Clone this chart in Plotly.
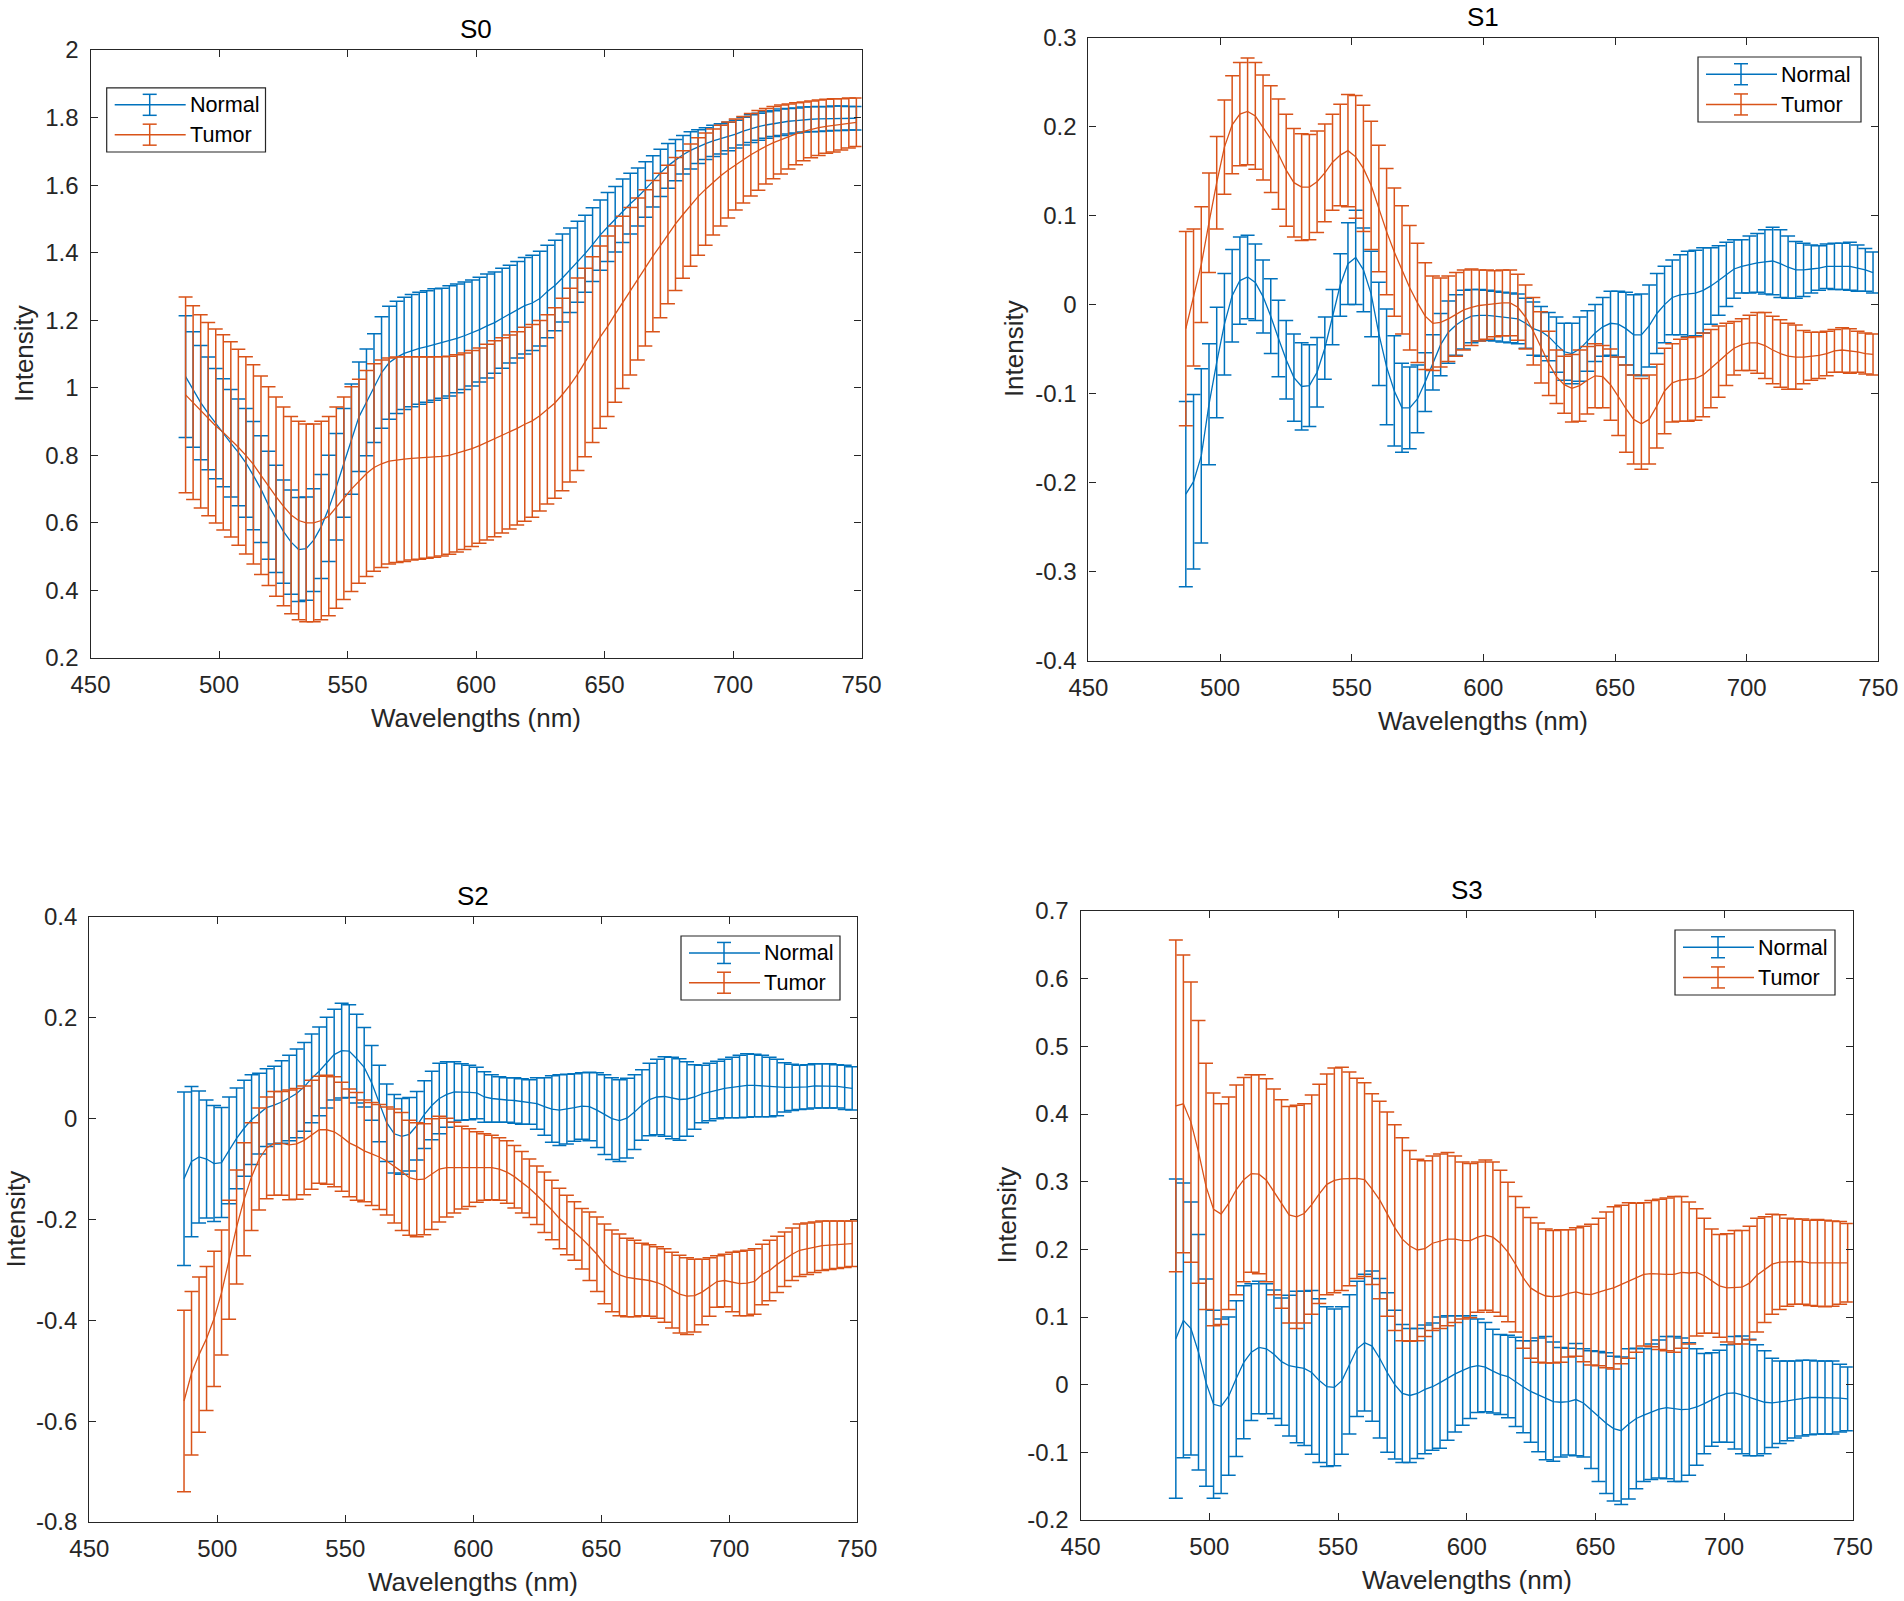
import plotly.graph_objects as go

# ---------------- data ----------------
WAVELENGTHS = [487.00, 489.93, 492.87, 495.80, 498.73, 501.66, 504.60, 507.53, 510.46, 513.39,
               516.33, 519.26, 522.19, 525.12, 528.06, 530.99, 533.92, 536.85, 539.79, 542.72,
               545.65, 548.58, 551.52, 554.45, 557.38, 560.31, 563.25, 566.18, 569.11, 572.04,
               574.98, 577.91, 580.84, 583.78, 586.71, 589.64, 592.57, 595.51, 598.44, 601.37,
               604.30, 607.24, 610.17, 613.10, 616.03, 618.97, 621.90, 624.83, 627.76, 630.70,
               633.63, 636.56, 639.49, 642.43, 645.36, 648.29, 651.22, 654.16, 657.09, 660.02,
               662.96, 665.89, 668.82, 671.75, 674.69, 677.62, 680.55, 683.48, 686.42, 689.35,
               692.28, 695.21, 698.15, 701.08, 704.01, 706.94, 709.88, 712.81, 715.74, 718.67,
               721.61, 724.54, 727.47, 730.40, 733.34, 736.27, 739.20, 742.13, 745.07, 748.00]

S0_NORMAL_MEAN = [1.033, 0.995, 0.956, 0.924, 0.894, 0.867, 0.836, 0.809, 0.778, 0.740,
                  0.700, 0.652, 0.612, 0.574, 0.543, 0.521, 0.524, 0.549, 0.589, 0.643,
                  0.707, 0.778, 0.848, 0.914, 0.957, 0.999, 1.045, 1.074, 1.090, 1.102,
                  1.110, 1.117, 1.122, 1.128, 1.132, 1.139, 1.146, 1.154, 1.162, 1.172,
                  1.183, 1.193, 1.206, 1.218, 1.231, 1.243, 1.251, 1.264, 1.285, 1.303,
                  1.325, 1.348, 1.373, 1.397, 1.424, 1.452, 1.476, 1.499, 1.524, 1.545,
                  1.565, 1.587, 1.611, 1.636, 1.657, 1.674, 1.690, 1.703, 1.714, 1.723,
                  1.731, 1.737, 1.744, 1.751, 1.760, 1.767, 1.773, 1.778, 1.782, 1.786,
                  1.789, 1.791, 1.794, 1.795, 1.796, 1.796, 1.798, 1.798, 1.798, 1.798]
S0_NORMAL_ERR = [0.180, 0.171, 0.169, 0.167, 0.163, 0.160, 0.159, 0.158, 0.161, 0.160,
                 0.158, 0.160, 0.159, 0.153, 0.154, 0.154, 0.153, 0.152, 0.154, 0.157,
                 0.158, 0.161, 0.163, 0.162, 0.158, 0.161, 0.165, 0.167, 0.166, 0.166,
                 0.166, 0.166, 0.165, 0.165, 0.163, 0.163, 0.161, 0.159, 0.157, 0.155,
                 0.154, 0.150, 0.148, 0.145, 0.143, 0.143, 0.141, 0.140, 0.137, 0.134,
                 0.130, 0.125, 0.120, 0.114, 0.109, 0.104, 0.102, 0.097, 0.094, 0.090,
                 0.086, 0.082, 0.076, 0.070, 0.066, 0.061, 0.057, 0.055, 0.050, 0.047,
                 0.046, 0.045, 0.042, 0.041, 0.041, 0.041, 0.040, 0.039, 0.038, 0.039,
                 0.038, 0.037, 0.037, 0.037, 0.037, 0.036, 0.036, 0.036, 0.035, 0.035]
S0_TUMOR_MEAN = [0.979, 0.956, 0.930, 0.907, 0.887, 0.868, 0.847, 0.824, 0.800, 0.773,
                 0.741, 0.709, 0.678, 0.649, 0.623, 0.607, 0.600, 0.600, 0.607, 0.620,
                 0.645, 0.673, 0.700, 0.723, 0.746, 0.764, 0.775, 0.783, 0.787, 0.789,
                 0.791, 0.792, 0.793, 0.795, 0.797, 0.800, 0.806, 0.812, 0.820, 0.829,
                 0.839, 0.849, 0.859, 0.869, 0.880, 0.892, 0.902, 0.917, 0.936, 0.955,
                 0.980, 1.008, 1.040, 1.075, 1.113, 1.150, 1.182, 1.218, 1.253, 1.286,
                 1.322, 1.355, 1.390, 1.421, 1.454, 1.485, 1.513, 1.541, 1.566, 1.588,
                 1.609, 1.628, 1.645, 1.661, 1.675, 1.690, 1.703, 1.715, 1.726, 1.735,
                 1.744, 1.752, 1.759, 1.765, 1.770, 1.774, 1.777, 1.780, 1.784, 1.786]
S0_TUMOR_ERR = [0.290, 0.287, 0.286, 0.286, 0.287, 0.289, 0.289, 0.290, 0.292, 0.295,
                0.294, 0.294, 0.295, 0.294, 0.292, 0.294, 0.293, 0.293, 0.294, 0.295,
                0.298, 0.300, 0.303, 0.302, 0.305, 0.307, 0.307, 0.305, 0.304, 0.303,
                0.301, 0.300, 0.298, 0.297, 0.295, 0.293, 0.292, 0.291, 0.290, 0.289,
                0.290, 0.290, 0.289, 0.287, 0.286, 0.287, 0.285, 0.282, 0.280, 0.282,
                0.285, 0.287, 0.285, 0.279, 0.275, 0.270, 0.267, 0.261, 0.255, 0.248,
                0.240, 0.231, 0.224, 0.214, 0.205, 0.197, 0.189, 0.181, 0.174, 0.166,
                0.157, 0.149, 0.142, 0.135, 0.128, 0.122, 0.118, 0.112, 0.107, 0.102,
                0.096, 0.092, 0.087, 0.084, 0.082, 0.080, 0.079, 0.076, 0.074, 0.072]

S1_NORMAL_MEAN = [-0.213, -0.199, -0.170, -0.112, -0.065, -0.022, 0.010, 0.027, 0.031, 0.025,
                  0.009, -0.013, -0.038, -0.062, -0.082, -0.092, -0.091, -0.076, -0.049, -0.014,
                  0.022, 0.046, 0.053, 0.039, 0.012, -0.033, -0.070, -0.097, -0.116, -0.116,
                  -0.106, -0.087, -0.065, -0.045, -0.031, -0.023, -0.017, -0.013, -0.012, -0.012,
                  -0.013, -0.014, -0.015, -0.016, -0.021, -0.027, -0.030, -0.036, -0.045, -0.053,
                  -0.055, -0.050, -0.041, -0.032, -0.025, -0.021, -0.022, -0.027, -0.034, -0.034,
                  -0.024, -0.010, 0.000, 0.008, 0.011, 0.012, 0.013, 0.016, 0.021, 0.027,
                  0.034, 0.040, 0.043, 0.045, 0.047, 0.048, 0.049, 0.046, 0.042, 0.039,
                  0.039, 0.040, 0.041, 0.043, 0.043, 0.043, 0.043, 0.041, 0.039, 0.036]
S1_NORMAL_ERR = [0.104, 0.098, 0.098, 0.068, 0.062, 0.057, 0.052, 0.049, 0.047, 0.043,
                 0.041, 0.042, 0.043, 0.044, 0.049, 0.049, 0.046, 0.039, 0.035, 0.031,
                 0.035, 0.046, 0.053, 0.047, 0.048, 0.058, 0.065, 0.062, 0.050, 0.046,
                 0.038, 0.033, 0.031, 0.035, 0.035, 0.034, 0.033, 0.030, 0.029, 0.028,
                 0.028, 0.028, 0.028, 0.028, 0.028, 0.030, 0.028, 0.027, 0.031, 0.032,
                 0.034, 0.036, 0.034, 0.032, 0.033, 0.036, 0.037, 0.041, 0.045, 0.046,
                 0.046, 0.045, 0.043, 0.042, 0.045, 0.048, 0.048, 0.048, 0.043, 0.039,
                 0.036, 0.033, 0.030, 0.032, 0.033, 0.036, 0.038, 0.038, 0.035, 0.032,
                 0.030, 0.027, 0.025, 0.025, 0.026, 0.026, 0.027, 0.026, 0.024, 0.023]
S1_TUMOR_MEAN = [-0.027, 0.008, 0.045, 0.092, 0.137, 0.177, 0.202, 0.214, 0.217, 0.212,
                 0.199, 0.186, 0.169, 0.151, 0.137, 0.132, 0.132, 0.138, 0.148, 0.160,
                 0.168, 0.173, 0.166, 0.153, 0.134, 0.108, 0.082, 0.059, 0.039, 0.019,
                 0.002, -0.013, -0.021, -0.020, -0.016, -0.011, -0.006, -0.003, -0.001, 0.000,
                 0.001, 0.002, 0.002, -0.003, -0.014, -0.030, -0.048, -0.066, -0.081, -0.090,
                 -0.094, -0.091, -0.085, -0.080, -0.081, -0.090, -0.103, -0.117, -0.129, -0.134,
                 -0.129, -0.114, -0.097, -0.088, -0.085, -0.084, -0.083, -0.079, -0.072, -0.064,
                 -0.056, -0.049, -0.045, -0.043, -0.043, -0.046, -0.051, -0.055, -0.058, -0.059,
                 -0.059, -0.058, -0.057, -0.055, -0.052, -0.051, -0.052, -0.053, -0.055, -0.056]
S1_TUMOR_ERR = [0.109, 0.077, 0.065, 0.056, 0.052, 0.053, 0.055, 0.058, 0.060, 0.060,
                0.059, 0.060, 0.062, 0.063, 0.061, 0.060, 0.059, 0.057, 0.055, 0.054,
                0.057, 0.063, 0.069, 0.071, 0.072, 0.071, 0.071, 0.072, 0.072, 0.070,
                0.067, 0.060, 0.053, 0.050, 0.048, 0.047, 0.045, 0.043, 0.040, 0.039,
                0.037, 0.037, 0.037, 0.037, 0.036, 0.038, 0.040, 0.036, 0.030, 0.032,
                0.038, 0.040, 0.038, 0.036, 0.035, 0.040, 0.044, 0.049, 0.050, 0.051,
                0.050, 0.047, 0.048, 0.044, 0.046, 0.047, 0.047, 0.047, 0.044, 0.040,
                0.035, 0.030, 0.029, 0.031, 0.034, 0.037, 0.038, 0.038, 0.037, 0.036,
                0.030, 0.027, 0.026, 0.025, 0.024, 0.025, 0.025, 0.023, 0.023, 0.023]

S2_NORMAL_MEAN = [-0.119, -0.085, -0.076, -0.080, -0.089, -0.087, -0.063, -0.039, -0.019, -0.002,
                  0.010, 0.022, 0.027, 0.033, 0.041, 0.050, 0.063, 0.080, 0.094, 0.111,
                  0.127, 0.135, 0.134, 0.119, 0.102, 0.071, 0.030, -0.008, -0.030, -0.035,
                  -0.031, -0.014, 0.008, 0.026, 0.040, 0.048, 0.053, 0.053, 0.052, 0.051,
                  0.043, 0.040, 0.038, 0.037, 0.036, 0.034, 0.033, 0.030, 0.024, 0.019,
                  0.017, 0.019, 0.022, 0.025, 0.024, 0.017, 0.008, 0.000, -0.004, 0.001,
                  0.013, 0.027, 0.038, 0.043, 0.044, 0.041, 0.038, 0.039, 0.043, 0.049,
                  0.053, 0.057, 0.060, 0.062, 0.064, 0.066, 0.066, 0.065, 0.063, 0.062,
                  0.062, 0.062, 0.062, 0.063, 0.065, 0.065, 0.065, 0.064, 0.062, 0.060]
S2_NORMAL_ERR = [0.172, 0.149, 0.131, 0.117, 0.115, 0.109, 0.106, 0.100, 0.095, 0.089,
                 0.080, 0.077, 0.077, 0.082, 0.085, 0.088, 0.088, 0.088, 0.088, 0.090,
                 0.090, 0.094, 0.092, 0.088, 0.079, 0.074, 0.076, 0.077, 0.078, 0.075,
                 0.073, 0.068, 0.067, 0.068, 0.070, 0.065, 0.060, 0.056, 0.054, 0.051,
                 0.050, 0.047, 0.045, 0.044, 0.045, 0.045, 0.044, 0.051, 0.057, 0.066,
                 0.070, 0.069, 0.067, 0.066, 0.068, 0.074, 0.079, 0.081, 0.081, 0.079,
                 0.074, 0.070, 0.072, 0.075, 0.079, 0.081, 0.081, 0.074, 0.064, 0.057,
                 0.057, 0.057, 0.058, 0.060, 0.062, 0.063, 0.062, 0.061, 0.059, 0.056,
                 0.049, 0.046, 0.044, 0.044, 0.044, 0.044, 0.044, 0.043, 0.044, 0.043]
S2_TUMOR_MEAN = [-0.560, -0.505, -0.468, -0.436, -0.397, -0.345, -0.280, -0.215, -0.160, -0.115,
                 -0.080, -0.058, -0.049, -0.049, -0.052, -0.050, -0.043, -0.032, -0.022, -0.022,
                 -0.026, -0.036, -0.048, -0.055, -0.064, -0.070, -0.076, -0.084, -0.094, -0.105,
                 -0.117, -0.121, -0.120, -0.110, -0.100, -0.097, -0.097, -0.097, -0.097, -0.096,
                 -0.096, -0.097, -0.100, -0.106, -0.115, -0.126, -0.138, -0.152, -0.166, -0.181,
                 -0.198, -0.211, -0.223, -0.238, -0.253, -0.269, -0.288, -0.302, -0.310, -0.315,
                 -0.317, -0.319, -0.321, -0.325, -0.331, -0.340, -0.348, -0.352, -0.351, -0.344,
                 -0.334, -0.323, -0.321, -0.324, -0.327, -0.326, -0.323, -0.309, -0.301, -0.289,
                 -0.279, -0.269, -0.261, -0.258, -0.255, -0.252, -0.251, -0.250, -0.249, -0.248]
S2_TUMOR_ERR = [0.180, 0.162, 0.154, 0.143, 0.134, 0.124, 0.118, 0.113, 0.112, 0.107,
                0.101, 0.101, 0.103, 0.103, 0.109, 0.110, 0.108, 0.108, 0.106, 0.108,
                0.109, 0.108, 0.107, 0.107, 0.101, 0.102, 0.104, 0.107, 0.113, 0.117,
                0.114, 0.113, 0.110, 0.110, 0.105, 0.098, 0.090, 0.082, 0.077, 0.070,
                0.066, 0.064, 0.062, 0.062, 0.062, 0.061, 0.058, 0.058, 0.060, 0.059,
                0.060, 0.059, 0.058, 0.060, 0.068, 0.074, 0.079, 0.081, 0.081, 0.078,
                0.076, 0.072, 0.071, 0.071, 0.073, 0.075, 0.077, 0.076, 0.072, 0.065,
                0.058, 0.051, 0.052, 0.059, 0.064, 0.065, 0.065, 0.060, 0.060, 0.056,
                0.054, 0.052, 0.052, 0.051, 0.050, 0.049, 0.048, 0.047, 0.046, 0.045]

S3_NORMAL_MEAN = [0.068, 0.095, 0.083, 0.048, 0.003, -0.029, -0.032, -0.017, 0.009, 0.033,
                  0.048, 0.055, 0.053, 0.045, 0.034, 0.028, 0.026, 0.024, 0.018, 0.006,
                  -0.003, -0.004, 0.006, 0.030, 0.053, 0.062, 0.057, 0.039, 0.018, 0.000,
                  -0.013, -0.016, -0.013, -0.007, -0.003, 0.003, 0.010, 0.016, 0.021, 0.026,
                  0.028, 0.026, 0.020, 0.015, 0.012, 0.004, -0.003, -0.010, -0.015, -0.020,
                  -0.025, -0.026, -0.025, -0.022, -0.027, -0.037, -0.047, -0.057, -0.065, -0.068,
                  -0.058, -0.050, -0.045, -0.040, -0.036, -0.034, -0.036, -0.037, -0.036, -0.033,
                  -0.028, -0.022, -0.017, -0.013, -0.012, -0.015, -0.019, -0.023, -0.026, -0.027,
                  -0.026, -0.024, -0.022, -0.020, -0.019, -0.019, -0.019, -0.019, -0.020, -0.021]
S3_NORMAL_ERR = [0.236, 0.203, 0.187, 0.174, 0.153, 0.139, 0.129, 0.117, 0.115, 0.113,
                 0.101, 0.098, 0.096, 0.095, 0.094, 0.104, 0.112, 0.114, 0.121, 0.121,
                 0.118, 0.116, 0.109, 0.103, 0.100, 0.101, 0.111, 0.118, 0.118, 0.110,
                 0.102, 0.099, 0.096, 0.095, 0.094, 0.097, 0.092, 0.086, 0.081, 0.076,
                 0.069, 0.066, 0.062, 0.059, 0.061, 0.066, 0.068, 0.075, 0.084, 0.091,
                 0.088, 0.081, 0.079, 0.083, 0.080, 0.087, 0.096, 0.104, 0.107, 0.109,
                 0.111, 0.104, 0.098, 0.100, 0.102, 0.105, 0.107, 0.106, 0.098, 0.086,
                 0.074, 0.069, 0.068, 0.072, 0.083, 0.087, 0.086, 0.082, 0.076, 0.066,
                 0.061, 0.059, 0.057, 0.056, 0.055, 0.054, 0.054, 0.054, 0.050, 0.047]
S3_TUMOR_MEAN = [0.412, 0.415, 0.388, 0.344, 0.293, 0.259, 0.252, 0.268, 0.288, 0.303,
                 0.312, 0.311, 0.302, 0.285, 0.267, 0.251, 0.248, 0.253, 0.266, 0.282,
                 0.296, 0.302, 0.304, 0.304, 0.305, 0.303, 0.289, 0.273, 0.252, 0.232,
                 0.215, 0.205, 0.199, 0.201, 0.209, 0.212, 0.215, 0.215, 0.213, 0.213,
                 0.218, 0.221, 0.218, 0.209, 0.196, 0.178, 0.158, 0.143, 0.136, 0.131,
                 0.130, 0.131, 0.135, 0.137, 0.134, 0.133, 0.137, 0.140, 0.143, 0.148,
                 0.154, 0.158, 0.163, 0.164, 0.163, 0.163, 0.163, 0.166, 0.165, 0.166,
                 0.161, 0.153, 0.146, 0.143, 0.144, 0.144, 0.150, 0.162, 0.170, 0.178,
                 0.181, 0.181, 0.182, 0.182, 0.180, 0.180, 0.179, 0.179, 0.180, 0.180]
S3_TUMOR_ERR = [0.245, 0.220, 0.207, 0.194, 0.182, 0.172, 0.163, 0.157, 0.155, 0.151,
                0.146, 0.147, 0.150, 0.152, 0.154, 0.160, 0.165, 0.162, 0.162, 0.162,
                0.163, 0.166, 0.165, 0.158, 0.148, 0.143, 0.141, 0.146, 0.151, 0.152,
                0.150, 0.141, 0.134, 0.130, 0.129, 0.129, 0.128, 0.123, 0.116, 0.114,
                0.111, 0.111, 0.111, 0.108, 0.103, 0.100, 0.104, 0.104, 0.103, 0.099,
                0.098, 0.098, 0.094, 0.095, 0.100, 0.104, 0.109, 0.115, 0.120, 0.117,
                0.115, 0.110, 0.106, 0.108, 0.111, 0.113, 0.115, 0.112, 0.105, 0.094,
                0.085, 0.077, 0.076, 0.080, 0.084, 0.084, 0.084, 0.084, 0.078, 0.074,
                0.070, 0.065, 0.063, 0.063, 0.063, 0.064, 0.064, 0.063, 0.061, 0.058]

SERIES_NAMES = ["Normal", "Tumor"]
TITLES = ["S0", "S1", "S2", "S3"]
X_LABEL = "Wavelengths (nm)"
Y_LABEL = "Intensity"
X_TICKS = [450, 500, 550, 600, 650, 700, 750]
X_TICK_LABELS = ["450", "500", "550", "600", "650", "700", "750"]
S0_Y_TICKS = [0.2, 0.4, 0.6, 0.8, 1.0, 1.2, 1.4, 1.6, 1.8, 2.0]
S0_Y_LABELS = ["0.2", "0.4", "0.6", "0.8", "1", "1.2", "1.4", "1.6", "1.8", "2"]
S1_Y_TICKS = [-0.4, -0.3, -0.2, -0.1, 0.0, 0.1, 0.2, 0.3]
S1_Y_LABELS = ["-0.4", "-0.3", "-0.2", "-0.1", "0", "0.1", "0.2", "0.3"]
S2_Y_TICKS = [-0.8, -0.6, -0.4, -0.2, 0.0, 0.2, 0.4]
S2_Y_LABELS = ["-0.8", "-0.6", "-0.4", "-0.2", "0", "0.2", "0.4"]
S3_Y_TICKS = [-0.2, -0.1, 0.0, 0.1, 0.2, 0.3, 0.4, 0.5, 0.6, 0.7]
S3_Y_LABELS = ["-0.2", "-0.1", "0", "0.1", "0.2", "0.3", "0.4", "0.5", "0.6", "0.7"]

# ---------------- styling / layout ----------------
W, H = 1904, 1601
BLUE = "#0072BD"
ORANGE = "#D95319"
INK = "#262626"
FONT = "Liberation Sans, Arial, Helvetica, sans-serif"

panels = [
    dict(title=TITLES[0], normal=(S0_NORMAL_MEAN, S0_NORMAL_ERR), tumor=(S0_TUMOR_MEAN, S0_TUMOR_ERR),
         yr=[0.2, 2.0], yt=S0_Y_TICKS, yl=S0_Y_LABELS,
         box=(90.5, 861.5, 50.0, 658.0), ylab_x=24, leg=(106.7, 87.8, 265.5, 152.0)),
    dict(title=TITLES[1], normal=(S1_NORMAL_MEAN, S1_NORMAL_ERR), tumor=(S1_TUMOR_MEAN, S1_TUMOR_ERR),
         yr=[-0.4, 0.3], yt=S1_Y_TICKS, yl=S1_Y_LABELS,
         box=(1088.4, 1878.3, 37.6, 660.6), ylab_x=1014, leg=(1698.0, 57.0, 1861.0, 122.0)),
    dict(title=TITLES[2], normal=(S2_NORMAL_MEAN, S2_NORMAL_ERR), tumor=(S2_TUMOR_MEAN, S2_TUMOR_ERR),
         yr=[-0.8, 0.4], yt=S2_Y_TICKS, yl=S2_Y_LABELS,
         box=(89.3, 857.3, 917.0, 1522.0), ylab_x=15, leg=(681.0, 936.0, 840.0, 1000.0)),
    dict(title=TITLES[3], normal=(S3_NORMAL_MEAN, S3_NORMAL_ERR), tumor=(S3_TUMOR_MEAN, S3_TUMOR_ERR),
         yr=[-0.2, 0.7], yt=S3_Y_TICKS, yl=S3_Y_LABELS,
         box=(1080.6, 1852.8, 911.0, 1520.0), ylab_x=1006, leg=(1675.0, 930.0, 1835.0, 995.0)),
]


def px(x):
    return x / W


def py(y):
    return 1 - y / H


fig = go.Figure()
layout = dict(
    template="none",
    width=W, height=H, margin=dict(l=0, r=0, t=0, b=0, pad=0, autoexpand=False),
    paper_bgcolor="white", plot_bgcolor="white",
    showlegend=False, font=dict(family=FONT, color=INK),
)
annotations = []
shapes = []

for i, p in enumerate(panels):
    n = i + 1
    sx = "" if n == 1 else str(n)
    xa, ya = "x" + sx, "y" + sx
    L, R, T, B = p["box"]
    for (mean, err), color, name in ((p["normal"], BLUE, SERIES_NAMES[0]),
                                     (p["tumor"], ORANGE, SERIES_NAMES[1])):
        fig.add_trace(go.Scatter(
            x=WAVELENGTHS, y=mean, mode="lines", name=name,
            line=dict(color=color, width=1.3),
            error_y=dict(type="data", array=err, visible=True, color=color,
                         thickness=1.5, width=7),
            xaxis=xa, yaxis=ya, hoverinfo="skip"))
    common = dict(showline=True, linecolor=INK, linewidth=1.2, mirror="ticks",
                  ticks="inside", ticklen=7, tickwidth=1.2, tickcolor=INK,
                  showgrid=False, zeroline=False, automargin=False,
                  tickfont=dict(family=FONT, size=24, color=INK))
    layout["xaxis" + sx] = dict(domain=[px(L), px(R)], range=[450, 750], anchor=ya,
                                tickmode="array", tickvals=X_TICKS, ticktext=X_TICK_LABELS,
                                ticklabelstandoff=5, **common)
    layout["yaxis" + sx] = dict(domain=[py(B), py(T)], range=p["yr"], anchor=xa,
                                tickmode="array", tickvals=p["yt"], ticktext=p["yl"],
                                ticklabelstandoff=6, **common)
    cx = (L + R) / 2
    # title
    annotations.append(dict(text=p["title"], x=px(cx), y=py(T - 21), xref="paper", yref="paper",
                            xanchor="center", yanchor="middle", showarrow=False,
                            font=dict(family=FONT, size=26, color="black")))
    # x label
    annotations.append(dict(text=X_LABEL, x=px(cx), y=py(B + 60), xref="paper", yref="paper",
                            xanchor="center", yanchor="middle", showarrow=False,
                            font=dict(family=FONT, size=26, color=INK)))
    # y label
    annotations.append(dict(text=Y_LABEL, x=px(p["ylab_x"]), y=py((T + B) / 2), xref="paper",
                            yref="paper", xanchor="center", yanchor="middle", showarrow=False,
                            textangle=-90, font=dict(family=FONT, size=26, color=INK)))
    # legend (MATLAB style: line with an error-bar glyph)
    l0, t0, r0, b0 = p["leg"]
    shapes.append(dict(type="rect", xref="paper", yref="paper", x0=px(l0), x1=px(r0),
                       y0=py(b0), y1=py(t0), line=dict(color=INK, width=1.2),
                       fillcolor="white", layer="above"))
    hgt = b0 - t0
    for j, (name, color) in enumerate(((SERIES_NAMES[0], BLUE), (SERIES_NAMES[1], ORANGE))):
        yy = t0 + hgt * (0.265 + 0.465 * j)
        xc = l0 + 43
        line_style = dict(color=color, width=1.5)
        shapes.append(dict(type="line", xref="paper", yref="paper", x0=px(l0 + 8), x1=px(l0 + 79),
                           y0=py(yy), y1=py(yy), line=line_style, layer="above"))
        shapes.append(dict(type="line", xref="paper", yref="paper", x0=px(xc), x1=px(xc),
                           y0=py(yy - 10.5), y1=py(yy + 10.5), line=line_style, layer="above"))
        for dy in (-10.5, 10.5):
            shapes.append(dict(type="line", xref="paper", yref="paper", x0=px(xc - 7),
                               x1=px(xc + 7), y0=py(yy + dy), y1=py(yy + dy),
                               line=line_style, layer="above"))
        annotations.append(dict(text=name, x=px(l0 + 81), y=py(yy), xref="paper", yref="paper",
                                xanchor="left", yanchor="middle", showarrow=False,
                                font=dict(family=FONT, size=21.6, color="black")))

layout["annotations"] = annotations
layout["shapes"] = shapes
fig.update_layout(**layout)

fig.write_html("out.html", config={"displayModeBar": False},
               post_script="document.body.style.margin='0';")
